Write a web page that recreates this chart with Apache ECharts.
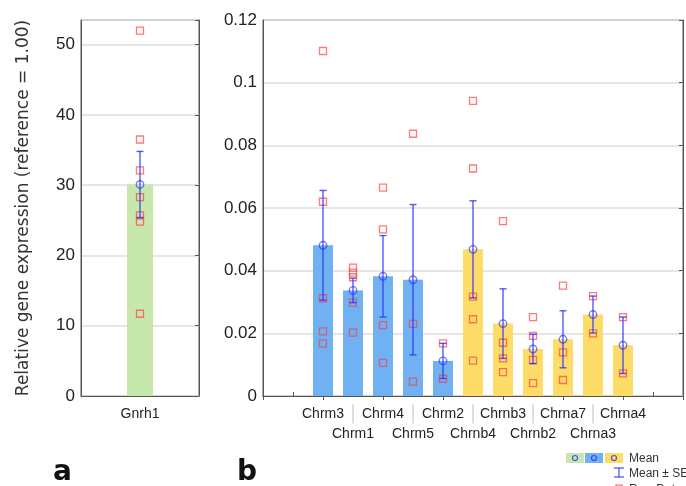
<!DOCTYPE html>
<html>
<head>
<meta charset="utf-8">
<script src="https://cdn.jsdelivr.net/npm/echarts@6/dist/echarts.min.js"></script>
<style>html,body{margin:0;padding:0;background:#fff}#c{width:686px;height:486px}</style>
</head>
<body>
<div id="c"></div>
<script>
// ---- Panel a data ----
const leftCategories = ['Gnrh1'];
const leftMeans = [30.1];
const leftSE = [4.7];
const leftRaw = [[52.0, 36.5, 32.1, 28.3, 25.7, 24.8, 11.7]];
const leftTicks = { min: 0, max: 53.5, interval: 10 };

// ---- Panel b data ----
const genes = ['Chrm3','Chrm1','Chrm4','Chrm5','Chrm2','Chrnb4','Chrnb3','Chrnb2','Chrna7','Chrna3','Chrna4'];
const geneGroup = ['m','m','m','m','m','n','n','n','n','n','n'];
const geneMeans = [0.0481, 0.0337, 0.0382, 0.0371, 0.0112, 0.0468, 0.0231, 0.0150, 0.0181, 0.0260, 0.0162];
const geneSE = [0.0175, 0.0039, 0.0130, 0.0240, 0.0056, 0.0155, 0.0111, 0.0047, 0.0091, 0.0059, 0.0090];
const geneRaw = [
  [0.1101, 0.0620, 0.0312, 0.0206, 0.0168],
  [0.0410, 0.0394, 0.0379, 0.0298, 0.0202],
  [0.0665, 0.0532, 0.0226, 0.0106],
  [0.0837, 0.0230, 0.0046],
  [0.0168, 0.0055],
  [0.0942, 0.0726, 0.0317, 0.0245, 0.0113],
  [0.0558, 0.0170, 0.0120, 0.0076],
  [0.0252, 0.0192, 0.0115, 0.0041],
  [0.0352, 0.0139, 0.0051],
  [0.0319, 0.0200],
  [0.0252, 0.0072]
];
const rightTicks = { min: 0, max: 0.12, interval: 0.02 };
const padBefore = 2, padAfter = 2;

// ---- styles ----
const colGreen = '#c6e8ad', colBlue = '#6fb1f2', colYellow = '#fddc68';
const errColor = 'rgba(45,45,255,0.8)';
const rawColor = 'rgba(255,60,60,0.85)';
const frame = '#555';
const tickFont = 'Liberation Sans, Arial, sans-serif';

const slots = [];
for (let i = 0; i < padBefore; i++) slots.push('');
genes.forEach(g => slots.push(g));
for (let i = 0; i < padAfter; i++) slots.push('');

const rightBars = slots.map((s, i) => {
  const gi = i - padBefore;
  if (gi < 0 || gi >= genes.length) return '-';
  return { value: geneMeans[gi], itemStyle: { color: geneGroup[gi] === 'm' ? colBlue : colYellow } };
});
const rightRaw = [];
geneRaw.forEach((arr, gi) => arr.forEach(v => rightRaw.push([gi + padBefore, v])));
const rightErr = geneMeans.map((m, gi) => [gi + padBefore, m - geneSE[gi], m + geneSE[gi]]);
const rightMean = geneMeans.map((m, gi) => [gi + padBefore, m]);

const leftRawPts = [];
leftRaw.forEach((arr, ci) => arr.forEach(v => leftRawPts.push([ci, v])));
const leftErr = leftMeans.map((m, i) => [i, m - leftSE[i], m + leftSE[i]]);
const leftMeanPts = leftMeans.map((m, i) => [i, m]);

function renderErr(params, api) {
  const x = api.value(0);
  const lo = api.coord([x, api.value(1)]);
  const hi = api.coord([x, api.value(2)]);
  const w = 3.5;
  const st = { stroke: errColor, lineWidth: 1.4 };
  return {
    type: 'group',
    children: [
      { type: 'line', shape: { x1: lo[0], y1: lo[1], x2: hi[0], y2: hi[1] }, style: st },
      { type: 'line', shape: { x1: hi[0] - w, y1: hi[1], x2: hi[0] + w, y2: hi[1] }, style: st },
      { type: 'line', shape: { x1: lo[0] - w, y1: lo[1], x2: lo[0] + w, y2: lo[1] }, style: st }
    ]
  };
}

const chart = echarts.init(document.getElementById('c'));
const rawStyle = { color: 'rgba(255,255,255,0)', borderColor: rawColor, borderWidth: 1.3 };
const meanStyle = { color: 'rgba(255,255,255,0)', borderColor: errColor, borderWidth: 1.4 };
const legendFont = '12px "Liberation Sans", Arial, sans-serif';

chart.setOption({
  animation: false,
  backgroundColor: '#fff',
  grid: [
    { left: 81, top: 20, width: 118, height: 376, show: true, borderColor: frame, borderWidth: 1, outerBoundsMode: 'none' },
    { left: 263, top: 20, width: 420, height: 376, show: true, borderColor: frame, borderWidth: 1, outerBoundsMode: 'none' }
  ],
  xAxis: [
    { gridIndex: 0, type: 'category', data: leftCategories, boundaryGap: true,
      axisLine: { lineStyle: { color: frame } }, axisTick: { show: false },
      axisLabel: { color: '#222', fontFamily: tickFont, fontSize: 14, margin: 11 } },
    { gridIndex: 1, type: 'category', data: slots, boundaryGap: false,
      axisLine: { lineStyle: { color: frame } },
      axisTick: { show: true, inside: true, length: 4, lineStyle: { color: frame } },
      axisLabel: {
        interval: 0, margin: 8, lineHeight: 20,
        formatter: (v, i) => {
          if (!v) return '';
          return ((i - padBefore) % 2 === 0) ? '{t|' + v + '}\n{t| }' : '{s| }\n{t|' + v + '}';
        },
        rich: {
          t: { color: '#222', fontFamily: tickFont, fontSize: 14, lineHeight: 20 },
          s: { width: 1, height: 19, backgroundColor: '#bdbdbd', fontSize: 1, lineHeight: 20 }
        }
      } },
    { gridIndex: 1, type: 'category', data: slots, boundaryGap: false, position: 'top',
      axisLine: { lineStyle: { color: frame } },
      axisTick: { show: true, inside: true, length: 4, lineStyle: { color: frame } },
      axisLabel: { show: false } }
  ],
  yAxis: [
    { gridIndex: 0, type: 'value', min: leftTicks.min, max: leftTicks.max, interval: leftTicks.interval,
      name: 'Relative gene expression (reference = 1.00)', nameLocation: 'middle', nameGap: 49,
      nameTextStyle: { fontFamily: 'DejaVu Sans, Verdana, sans-serif', fontSize: 17, color: '#333' },
      axisLine: { show: true, lineStyle: { color: frame } }, axisTick: { show: false },
      axisLabel: { color: '#222', fontFamily: tickFont, fontSize: 17, margin: 6, showMaxLabel: false },
      splitLine: { lineStyle: { color: '#dedede', width: 1.5 } } },
    { gridIndex: 0, type: 'value', position: 'right', min: leftTicks.min, max: leftTicks.max, interval: leftTicks.interval,
      axisLine: { show: true, lineStyle: { color: frame } },
      axisTick: { show: true, inside: true, length: 4, lineStyle: { color: frame } },
      axisLabel: { show: false }, splitLine: { show: false } },
    { gridIndex: 1, type: 'value', min: rightTicks.min, max: rightTicks.max, interval: rightTicks.interval,
      axisLine: { show: true, lineStyle: { color: frame } }, axisTick: { show: false },
      axisLabel: { color: '#222', fontFamily: tickFont, fontSize: 17, margin: 6 },
      splitLine: { lineStyle: { color: '#dedede', width: 1.5 } } },
    { gridIndex: 1, type: 'value', position: 'right', min: rightTicks.min, max: rightTicks.max, interval: rightTicks.interval,
      axisLine: { show: true, lineStyle: { color: frame } },
      axisTick: { show: true, inside: true, length: 4, lineStyle: { color: frame } },
      axisLabel: { show: false }, splitLine: { show: false } }
  ],
  series: [
    { type: 'bar', xAxisIndex: 0, yAxisIndex: 0, barWidth: 26, data: leftMeans, itemStyle: { color: colGreen } },
    { type: 'scatter', xAxisIndex: 0, yAxisIndex: 0, symbol: 'rect', symbolSize: 7, data: leftRawPts, itemStyle: rawStyle, z: 3 },
    { type: 'custom', xAxisIndex: 0, yAxisIndex: 0, renderItem: renderErr, data: leftErr, z: 4 },
    { type: 'scatter', xAxisIndex: 0, yAxisIndex: 0, symbol: 'circle', symbolSize: 7.5, data: leftMeanPts, itemStyle: meanStyle, z: 5 },

    { type: 'bar', xAxisIndex: 1, yAxisIndex: 2, barWidth: 20, data: rightBars },
    { type: 'scatter', xAxisIndex: 1, yAxisIndex: 2, symbol: 'rect', symbolSize: 7, data: rightRaw, itemStyle: rawStyle, z: 3 },
    { type: 'custom', xAxisIndex: 1, yAxisIndex: 2, renderItem: renderErr, data: rightErr, z: 4 },
    { type: 'scatter', xAxisIndex: 1, yAxisIndex: 2, symbol: 'circle', symbolSize: 7.5, data: rightMean, itemStyle: meanStyle, z: 5 }
  ],
  graphic: [
    { type: 'text', left: 53, top: 459, style: { text: 'a', font: 'bold 28px "DejaVu Sans", Verdana, sans-serif', fill: '#111' } },
    { type: 'text', left: 237, top: 459, style: { text: 'b', font: 'bold 28px "DejaVu Sans", Verdana, sans-serif', fill: '#111' } },
    { type: 'rect', shape: { x: 566, y: 453, width: 18, height: 10 }, style: { fill: colGreen } },
    { type: 'rect', shape: { x: 585, y: 453, width: 18, height: 10 }, style: { fill: colBlue } },
    { type: 'rect', shape: { x: 605, y: 453, width: 18, height: 10 }, style: { fill: colYellow } },
    { type: 'circle', shape: { cx: 575, cy: 458, r: 2.5 }, style: { fill: 'none', stroke: errColor, lineWidth: 1.2 } },
    { type: 'circle', shape: { cx: 594, cy: 458, r: 2.5 }, style: { fill: 'none', stroke: errColor, lineWidth: 1.2 } },
    { type: 'circle', shape: { cx: 614, cy: 458, r: 2.5 }, style: { fill: 'none', stroke: errColor, lineWidth: 1.2 } },
    { type: 'text', x: 629, y: 459, style: { text: 'Mean', font: legendFont, fill: '#333', verticalAlign: 'middle' } },
    { type: 'line', shape: { x1: 619, y1: 468, x2: 619, y2: 477 }, style: { stroke: errColor, lineWidth: 1.3 } },
    { type: 'line', shape: { x1: 614, y1: 468, x2: 624, y2: 468 }, style: { stroke: errColor, lineWidth: 1.3 } },
    { type: 'line', shape: { x1: 614, y1: 477, x2: 624, y2: 477 }, style: { stroke: errColor, lineWidth: 1.3 } },
    { type: 'text', x: 629, y: 474, style: { text: 'Mean ± SE', font: legendFont, fill: '#333', verticalAlign: 'middle' } },
    { type: 'rect', shape: { x: 616, y: 485, width: 6, height: 6 }, style: { fill: 'none', stroke: rawColor, lineWidth: 1.2 } },
    { type: 'text', x: 629, y: 490, style: { text: 'Raw Data', font: legendFont, fill: '#333', verticalAlign: 'middle' } }
  ]
});
</script>
</body>
</html>
